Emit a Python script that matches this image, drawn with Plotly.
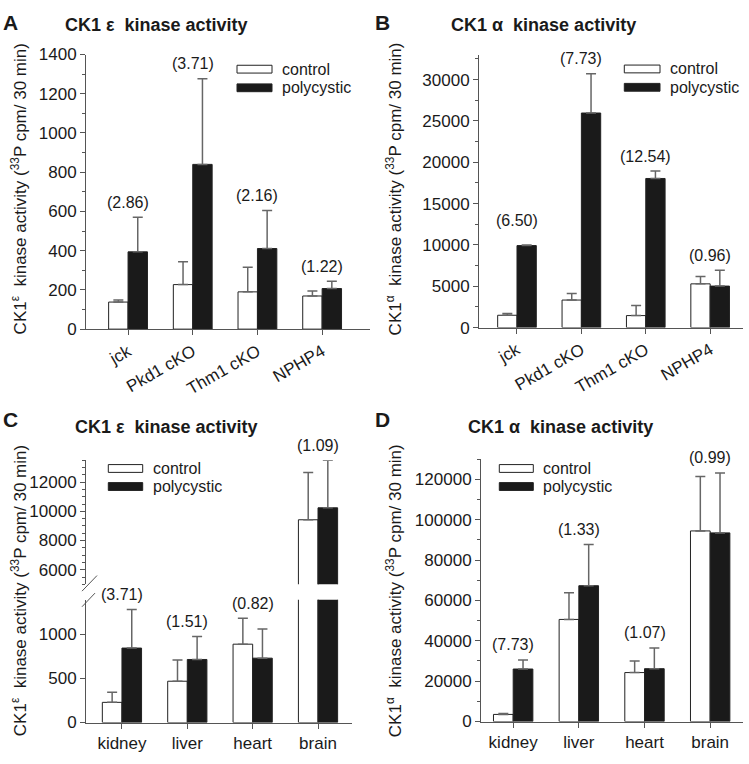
import plotly.graph_objects as go

W, H = 749, 764

# ---------------- data ----------------
groups_ab = ["jck", "Pkd1 cKO", "Thm1 cKO", "NPHP4"]
groups_cd = ["kidney", "liver", "heart", "brain"]

a_control = [138, 227, 190, 169]
a_control_err = [10, 116, 125, 25]
a_poly = [394, 840, 411, 207]
a_poly_err = [177, 436, 194, 37]
a_ratio = ["(2.86)", "(3.71)", "(2.16)", "(1.22)"]

b_control = [1490, 3330, 1450, 5290]
b_control_err = [200, 790, 1220, 900]
b_poly = [9920, 25960, 18040, 5020]
b_poly_err = [80, 4740, 900, 1920]
b_ratio = ["(6.50)", "(7.73)", "(12.54)", "(0.96)"]

c_control = [228, 467, 886, 9420]
c_control_err = [114, 239, 294, 3245]
c_poly = [842, 713, 728, 10240]
c_poly_err = [437, 261, 331, 3250]
c_ratio = ["(3.71)", "(1.51)", "(0.82)", "(1.09)"]

d_control = [3530, 50600, 24260, 94460]
d_control_err = [480, 13170, 5780, 26990]
d_poly = [26020, 67310, 26190, 93490]
d_poly_err = [4500, 20400, 10280, 29720]
d_ratio = ["(7.73)", "(1.33)", "(1.07)", "(0.99)"]

# ---------------- style ----------------
FONT = "Liberation Sans, Arial, sans-serif"
TXT = "#1a1a1a"
AX = "#555555"
ERR = "#666666"
BLACK = "#1a1a1a"


def px(x):
    return x / W


def py(y):
    return 1 - y / H


fig = go.Figure()


def add_bars(cats, ctl, ctl_e, pol, pol_e, xa, ya):
    fig.add_trace(go.Bar(
        x=cats, y=ctl, width=0.3, offset=-0.3, xaxis=xa, yaxis=ya,
        marker=dict(color="white", line=dict(color="#222222", width=1)),
        error_y=dict(type="data", symmetric=False, array=ctl_e,
                     arrayminus=[0] * len(ctl), color=ERR, thickness=1.5, width=5),
        showlegend=False, name="control"))
    fig.add_trace(go.Bar(
        x=cats, y=pol, width=0.3, offset=0.0, xaxis=xa, yaxis=ya,
        marker=dict(color=BLACK, line=dict(color="#222222", width=1)),
        error_y=dict(type="data", symmetric=False, array=pol_e,
                     arrayminus=[0] * len(pol), color=ERR, thickness=1.5, width=5),
        showlegend=False, name="polycystic"))


add_bars(groups_ab, a_control, a_control_err, a_poly, a_poly_err, "x", "y")
add_bars(groups_ab, b_control, b_control_err, b_poly, b_poly_err, "x2", "y2")
add_bars(groups_cd, c_control, c_control_err, c_poly, c_poly_err, "x3", "y3")
add_bars(groups_cd, c_control, c_control_err, c_poly, c_poly_err, "x3", "y5")
add_bars(groups_cd, d_control, d_control_err, d_poly, d_poly_err, "x4", "y4")


def xaxis(dom_px, cats, rng, angle, anchor):
    return dict(domain=[px(dom_px[0]), px(dom_px[1])], anchor=anchor,
                type="category", categoryorder="array", categoryarray=cats,
                range=rng, showline=True, linecolor=AX, linewidth=1,
                ticks="outside", ticklen=5, tickcolor=AX, tickangle=angle,
                showgrid=False, zeroline=False,
                tickfont=dict(size=17, family=FONT, color=TXT))


def yaxis(dom_px, rng, dtick, minor_dtick, anchor, tick0=0):
    d = dict(domain=[py(dom_px[1]), py(dom_px[0])], anchor=anchor, range=rng,
             showline=True, linecolor=AX, linewidth=1, ticks="outside",
             ticklen=5, tickcolor=AX, dtick=dtick, tick0=tick0, tickformat="d",
             showgrid=False, zeroline=False,
             tickfont=dict(size=17, family=FONT, color=TXT))
    if minor_dtick:
        d["minor"] = dict(ticks="outside", ticklen=3, tickcolor=AX,
                          dtick=minor_dtick, showgrid=False)
    return d


C_LOW_MAX = 1390

fig.update_layout(
    width=W, height=H,
    margin=dict(l=0, r=0, t=0, b=0),
    paper_bgcolor="white", plot_bgcolor="white",
    barmode="overlay",
    font=dict(family=FONT, color=TXT),
    xaxis=xaxis((86, 370), groups_ab, [-0.65, 3.74], -30, "y"),
    yaxis=yaxis((46.7, 328.3), [0, 1400], 200, 100, "x"),
    xaxis2=xaxis((479, 743), groups_ab, [-0.59, 3.51], -30, "y2"),
    yaxis2=yaxis((47, 326.7), [0, 33000], 5000, 2500, "x2"),
    xaxis3=xaxis((86, 352), groups_cd, [-0.55, 3.52], 0, "y3"),
    yaxis3=yaxis((605.7, 731.7), [0, C_LOW_MAX], 500, None, "x3"),
    yaxis5=yaxis((462.7, 590), [5000, 13500], 2000, 500, "x3"),
    xaxis4=xaxis((481, 743), groups_cd, [-0.49, 3.5], 0, "y4"),
    yaxis4=yaxis((461.7, 730.7), [0, 130000], 20000, 10000, "x4"),
)

annotations = []
shapes = []


def ratio_labels(cats, ctl, ctl_e, pol, pol_e, labels, xref, yref, extra=None, split=None):
    for i, c in enumerate(cats):
        top = max(ctl[i] + ctl_e[i], pol[i] + pol_e[i])
        yr = yref
        if split is not None and top > split[0]:
            yr = split[1]
        shift = 15 + (extra.get(i, 0) if extra else 0)
        annotations.append(dict(x=c, y=top, xref=xref, yref=yr, text=labels[i],
                                showarrow=False, yanchor="middle", yshift=shift,
                                font=dict(size=16, family=FONT, color=TXT)))


ratio_labels(groups_ab, a_control, a_control_err, a_poly, a_poly_err, a_ratio, "x", "y")
ratio_labels(groups_ab, b_control, b_control_err, b_poly, b_poly_err, b_ratio, "x2", "y2",
             extra={0: 9})
ratio_labels(groups_cd, c_control, c_control_err, c_poly, c_poly_err, c_ratio, "x3", "y3",
             split=(C_LOW_MAX, "y5"))
ratio_labels(groups_cd, d_control, d_control_err, d_poly, d_poly_err, d_ratio, "x4", "y4")

# panel letters and titles
panels = [
    ("A", 10.5, 13.5, "CK1\u00a0ε\u00a0\u00a0kinase activity", 156.5, 16.5),
    ("B", 382.5, 13.5, "CK1\u00a0α\u00a0\u00a0kinase activity", 543, 16.5),
    ("C", 10.5, 420.5, "CK1\u00a0ε\u00a0\u00a0kinase activity", 166.3, 428.5),
    ("D", 382.5, 420.5, "CK1\u00a0α\u00a0\u00a0kinase activity", 560, 428.5),
]
for letter, lx, ly, title, tx, ty in panels:
    annotations.append(dict(x=px(lx), y=py(ly), xref="paper", yref="paper", text=f"<b>{letter}</b>",
                            showarrow=False, xanchor="center", yanchor="middle",
                            font=dict(size=21, family=FONT, color=TXT)))
    annotations.append(dict(x=px(tx), y=py(ty), xref="paper", yref="paper", text=f"<b>{title}</b>",
                            showarrow=False, xanchor="center", yanchor="middle",
                            font=dict(size=18, family=FONT, color=TXT)))

# y-axis titles
ytitles = [
    ("CK1<sup>ε</sup>\u00a0\u00a0kinase activity (<sup>33</sup>P cpm/ 30 min)", 19, 185),
    ("CK1<sup>α</sup>\u00a0\u00a0kinase activity (<sup>33</sup>P cpm/ 30 min)", 394, 185),
    ("CK1<sup>ε</sup>\u00a0\u00a0kinase activity (<sup>33</sup>P cpm/ 30 min)", 19, 597),
    ("CK1<sup>α</sup>\u00a0\u00a0kinase activity (<sup>33</sup>P cpm/ 30 min)", 394, 597),
]
for t, x, y in ytitles:
    annotations.append(dict(x=px(x), y=py(y), xref="paper", yref="paper", text=t,
                            textangle=-90, showarrow=False, xanchor="center", yanchor="middle",
                            font=dict(size=17, family=FONT, color=TXT)))

# legends (swatch + text)
legends = [
    (237, 272, 280, 61.7, 80.8),
    (624.3, 660, 667.7, 61.5, 80.3),
    (108.3, 142.7, 151, 471.2, 489.7),
    (499.3, 533.3, 541, 471.2, 489.7),
]
for x0, x1, tx, yc, yp in legends:
    for yy, fill, label in ((yc, "white", "control"), (yp, BLACK, "polycystic")):
        shapes.append(dict(type="rect", xref="paper", yref="paper",
                           x0=px(x0), x1=px(x1), y0=py(yy + 4), y1=py(yy - 4),
                           fillcolor=fill, line=dict(color="#222222", width=1)))
        annotations.append(dict(x=px(tx), y=py(yy), xref="paper", yref="paper", text=label,
                                showarrow=False, xanchor="left", yanchor="middle",
                                font=dict(size=16, family=FONT, color=TXT)))

# axis break marks for panel C
for (x0, y0, x1, y1) in ((82, 597, 97, 581), (82, 613, 95, 599)):
    shapes.append(dict(type="line", xref="paper", yref="paper",
                       x0=px(x0), y0=py(y0), x1=px(x1), y1=py(y1),
                       line=dict(color=AX, width=1)))

fig.update_layout(annotations=annotations, shapes=shapes)

fig.write_html(
    "out.html",
    config={"displayModeBar": False},
    post_script="document.body.style.margin='0';document.body.style.overflow='hidden';",
)
